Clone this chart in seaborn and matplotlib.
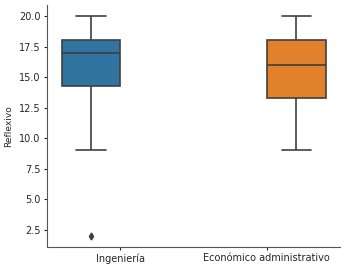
import pandas as pd
import seaborn as sns
from matplotlib import pyplot as plt

CATEGORIES = ['Ingeniería', 'Económico administrativo']
INGENIERIA = [2, 9, 14, 15, 17, 17, 18, 18, 19, 20]
ECONOMICO = [9, 12, 13, 14, 15, 17, 18, 18, 19, 20]
Y_LABEL = 'Reflexivo'
Y_TICKS = [2.5, 5.0, 7.5, 10.0, 12.5, 15.0, 17.5, 20.0]

df = pd.DataFrame({
    'area': [CATEGORIES[0]] * len(INGENIERIA) + [CATEGORIES[1]] * len(ECONOMICO),
    'Reflexivo': INGENIERIA + ECONOMICO,
})

sns.set_style('ticks')
fig, ax = plt.subplots(figsize=(3.45, 2.66), dpi=100)
fig.subplots_adjust(left=0.136, right=0.986, bottom=0.072, top=0.981)

sns.boxplot(
    data=df, x='area', y='Reflexivo', hue='area', order=CATEGORIES,
    hue_order=CATEGORIES, dodge=True, legend=False, ax=ax,
    palette=['#1f77b4', '#ff7f0e'], saturation=0.75, linecolor='#3f3f3f',
    linewidth=1.2,
    flierprops=dict(marker='d', markerfacecolor='#3f3f3f',
                    markeredgecolor='#3f3f3f', markersize=3.5),
)
sns.despine(ax=ax)
ax.set_xlim(-0.5, 1.5)
ax.set_yticks(Y_TICKS)
ax.set_xlabel('')
ax.set_ylabel(Y_LABEL, fontsize=6.5)
ax.tick_params(axis='both', labelsize=7, length=2.5, width=0.8, pad=2)
for s in ax.spines.values():
    s.set_color('#555555')

fig.savefig('out.png', dpi=100)
